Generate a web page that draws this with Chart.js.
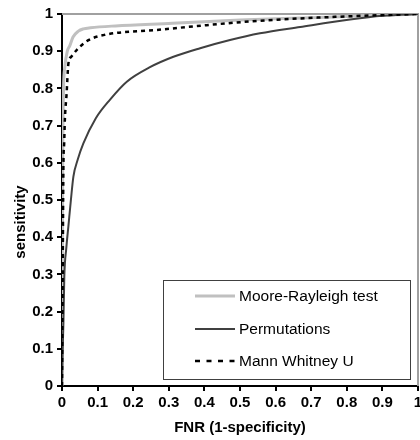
<!DOCTYPE html>
<html>
<head>
<meta charset="utf-8">
<script src="https://cdn.jsdelivr.net/npm/chart.js@4/dist/chart.umd.min.js"></script>
<style>
html,body{margin:0;padding:0;background:#fff;}
#wrap{position:relative;width:420px;height:440px;}
</style>
</head>
<body>
<div id="wrap"><canvas id="c" width="420" height="440"></canvas></div>
<script>
// ---- data ----
const seriesNames = ["Moore-Rayleigh test", "Permutations", "Mann Whitney U"];

const mooreX = [0, 0.001, 0.002, 0.004, 0.008, 0.015, 0.022, 0.031, 0.046, 0.06, 0.08, 0.15, 0.31, 0.5, 0.7, 0.85, 1];
const mooreY = [0, 0.3, 0.6, 0.787, 0.858, 0.9, 0.915, 0.938, 0.954, 0.96, 0.963, 0.968, 0.975, 0.984, 0.99, 0.995, 1];

const permX = [0, 0.002, 0.004, 0.0065, 0.012, 0.018, 0.025, 0.032, 0.044, 0.06, 0.095, 0.135, 0.182, 0.247, 0.313, 0.388, 0.472, 0.556, 0.669, 0.809, 0.9, 1];
const permY = [0, 0.1, 0.17, 0.294, 0.37, 0.43, 0.5, 0.563, 0.608, 0.652, 0.72, 0.77, 0.818, 0.857, 0.885, 0.908, 0.930, 0.948, 0.965, 0.985, 0.995, 1];

const mannX = [0, 0.002, 0.004, 0.006, 0.008, 0.013, 0.018, 0.026, 0.045, 0.073, 0.12, 0.266, 0.406, 0.556, 0.81, 1];
const mannY = [0, 0.3, 0.6, 0.65, 0.715, 0.787, 0.867, 0.885, 0.907, 0.929, 0.944, 0.957, 0.970, 0.982, 0.994, 1];

const xTickValues = [0, 0.1, 0.2, 0.3, 0.4, 0.5, 0.6, 0.7, 0.8, 0.9, 1];
const yTickValues = [0, 0.1, 0.2, 0.3, 0.4, 0.5, 0.6, 0.7, 0.8, 0.9, 1];
const xTitle = "FNR (1-specificity)";
const yTitle = "sensitivity";

function pts(xs, ys){ return xs.map((x,i)=>({x:x, y:ys[i]})); }

const FONT = "'Liberation Sans', Arial, sans-serif";

const frameAndLegend = {
  id: 'frameAndLegend',
  beforeDatasetsDraw(chart){
    const {ctx, chartArea:a} = chart;
    ctx.save();
    ctx.strokeStyle = '#a0a0a0';
    ctx.lineWidth = 2;
    ctx.beginPath();
    ctx.moveTo(a.left, a.top);
    ctx.lineTo(a.right, a.top);
    ctx.lineTo(a.right, a.bottom);
    ctx.stroke();
    ctx.restore();
  },
  afterDraw(chart){
    const {ctx, chartArea:a} = chart;
    // y axis title, placed slightly below the plot centre as in the reference
    ctx.save();
    ctx.translate(21, (a.top + a.bottom) / 2 + 22);
    ctx.rotate(-Math.PI / 2);
    ctx.font = 'bold 15px ' + FONT;
    ctx.fillStyle = '#000';
    ctx.textAlign = 'center';
    ctx.textBaseline = 'middle';
    ctx.fillText(yTitle, 0, 0);
    ctx.restore();

    const bx = a.left + 101, by = a.top + 266, bw = 247, bh = 99;
    ctx.save();
    ctx.fillStyle = '#fff';
    ctx.fillRect(bx, by, bw, bh);
    ctx.strokeStyle = '#404040';
    ctx.lineWidth = 1;
    ctx.strokeRect(bx + 0.5, by + 0.5, bw, bh);
    const rows = [16, 49, 81];
    const dashes = [[], [], [5, 6.5]];
    chart.data.datasets.forEach((ds, i) => {
      const y = by + rows[i];
      ctx.strokeStyle = ds.borderColor;
      ctx.lineWidth = ds.borderWidth;
      ctx.setLineDash(dashes[i]);
      ctx.beginPath();
      ctx.moveTo(bx + 32, y);
      ctx.lineTo(bx + 72, y);
      ctx.stroke();
      ctx.setLineDash([]);
      ctx.fillStyle = '#000';
      ctx.font = '15.5px ' + FONT;
      ctx.textBaseline = 'middle';
      ctx.textAlign = 'left';
      ctx.fillText(ds.label, bx + 76, y + 1);
    });
    ctx.restore();
  }
};

new Chart(document.getElementById('c'), {
  type: 'scatter',
  data: {
    datasets: [
      { label: seriesNames[0], data: pts(mooreX, mooreY), showLine: true, borderColor: '#c0c0c0', borderWidth: 3, pointRadius: 0, cubicInterpolationMode: 'monotone', order: 2 },
      { label: seriesNames[1], data: pts(permX, permY), showLine: true, borderColor: '#404040', borderWidth: 2, pointRadius: 0, cubicInterpolationMode: 'monotone', order: 1 },
      { label: seriesNames[2], data: pts(mannX, mannY), showLine: true, borderColor: '#000000', borderWidth: 2.5, borderDash: [4, 4], pointRadius: 0, cubicInterpolationMode: 'monotone', order: 0 }
    ]
  },
  options: {
    responsive: false,
    animation: false,
    events: [],
    layout: { padding: { top: 14, right: 2, left: 0, bottom: 0 } },
    plugins: { legend: { display: false }, tooltip: { enabled: false } },
    scales: {
      x: {
        type: 'linear', min: 0, max: 1,
        afterBuildTicks(s){ s.ticks = xTickValues.map(v => ({value: v})); },
        afterFit(s){ s.height = 54; s.paddingLeft = 0; s.paddingRight = 0; },
        ticks: { color: '#000', font: { family: FONT, size: 15, weight: 'bold' }, padding: 3, maxRotation: 0, autoSkip: false,
                 callback: v => String(v) },
        grid: { drawOnChartArea: false, drawTicks: true, tickLength: 5, color: '#000', lineWidth: 2 },
        border: { color: '#000', width: 2 },
        title: { display: true, text: xTitle, color: '#000', font: { family: FONT, size: 15, weight: 'bold' }, padding: { top: 0, bottom: 3 } }
      },
      y: {
        type: 'linear', min: 0, max: 1,
        afterBuildTicks(s){ s.ticks = yTickValues.map(v => ({value: v})); },
        afterFit(s){ s.width = 62; s.paddingTop = 0; s.paddingBottom = 0; },
        ticks: { color: '#000', font: { family: FONT, size: 15, weight: 'bold' }, padding: 4, autoSkip: false,
                 callback: v => String(v) },
        grid: { drawOnChartArea: false, drawTicks: true, tickLength: 5, color: '#000', lineWidth: 2 },
        border: { color: '#000', width: 2 },
        title: { display: false }
      }
    }
  },
  plugins: [frameAndLegend]
});
</script>
</body>
</html>
